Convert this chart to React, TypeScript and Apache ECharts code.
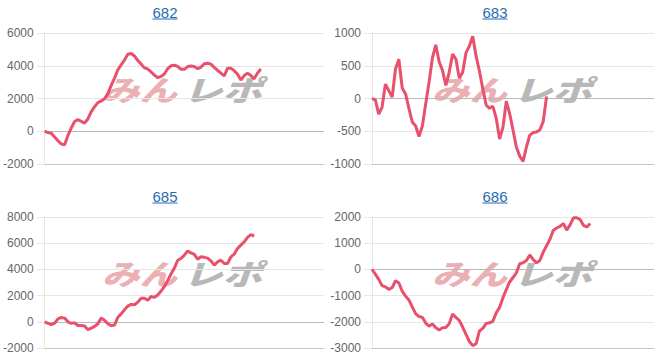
import React, { useEffect, useRef } from 'react';
import * as echarts from 'echarts';

const titles = ['682', '683', '685', '686'];
const categories = Array.from({ length: 85 }, (_, i) => String(i + 1));

const s682 = [0, -80, -130, -350, -580, -780, -830, -250, 200, 600, 720, 600, 500, 750, 1200, 1500, 1750, 1850, 1980, 2300,
  2800, 3250, 3750, 4050, 4350, 4700, 4750, 4600, 4320, 4100, 3870, 3800, 3620, 3430, 3270, 3350, 3500, 3830, 4000, 4030,
  3960, 3780, 3780, 3950, 3980, 3960, 3820, 3920, 4120, 4150, 4100, 3900, 3720, 3550, 3380, 3850, 3850, 3700, 3480, 3130,
  3400, 3550, 3400, 3200, 3550, 3800];
const s683 = [0, -20, -240, -130, 220, 120, 20, 450, 600, 160, 70, -150, -360, -420, -580, -420, -80, 250, 620, 820,
  560, 430, 200, 400, 680, 600, 310, 400, 700, 800, 950, 650, 420, 150, -100, -150, -120, -300, -620, -440,
  -40, -230, -480, -740, -880, -960, -740, -560, -520, -510, -480, -350, 30];
const s685 = [0, -120, -220, -100, 220, 330, 280, 0, -120, -80, -280, -280, -320, -600, -480, -350, -150, 280, 120, -150,
  -300, -250, 350, 600, 920, 1200, 1330, 1300, 1500, 1800, 1800, 1650, 1930, 1870, 2050, 2350, 2700, 3150, 3650, 4100,
  4700, 4830, 5090, 5400, 5260, 5150, 4780, 4960, 4920, 4860, 4650, 4320, 4580, 4700, 4450, 4450, 4960, 5170, 5600, 5850,
  6100, 6450, 6650, 6550];
const s686 = [0, -180, -380, -620, -670, -760, -700, -430, -520, -830, -1020, -1170, -1430, -1690, -1800, -1830, -2050, -2170, -2080, -2230,
  -2310, -2230, -2220, -2070, -1700, -1830, -1950, -2200, -2480, -2750, -2910, -2840, -2350, -2250, -2060, -2040, -1980, -1660, -1450, -1080,
  -770, -480, -310, -130, 215, 250, 340, 550, 380, 250, 340, 660, 900, 1150, 1490, 1580, 1640, 1750, 1500, 1700,
  1970, 1970, 1900, 1680, 1620, 1750];

const seriesData = [s682, s683, s685, s686];
const yMin = [-2000, -1000, -2000, -3000];
const yMax = [6000, 1000, 8000, 2000];
const yStep = [2000, 500, 2000, 1000];

const gridPos = [
  { left: 42, top: 33 },
  { left: 372, top: 33 },
  { left: 42, top: 217 },
  { left: 372, top: 217 },
];
const GW = 282;
const GH = 131;
const FONT = '"Liberation Sans", Arial, sans-serif';
const LINK = '#1f6db0';

export default function App() {
  const ref = useRef<HTMLDivElement>(null);
  useEffect(() => {
    if (!ref.current) return;
    const chart = echarts.init(ref.current, undefined, { renderer: 'svg' });
    const graphics: any[] = [];
    gridPos.forEach((g, i) => {
      const cx = g.left + 123;
      graphics.push({
        type: 'text', x: cx, y: g.top - 20.5, z: 10,
        style: { text: titles[i], fill: LINK, font: `15px ${FONT}`, textAlign: 'center', textVerticalAlign: 'middle' },
      });
      graphics.push({
        type: 'line', z: 10,
        shape: { x1: cx - 12.5, y1: g.top - 14, x2: cx + 12.5, y2: g.top - 14 },
        style: { stroke: LINK, lineWidth: 1 },
      });
      graphics.push({
        type: 'text', x: g.left + 60, y: g.top + 56, z: 0, scaleX: 1.25, scaleY: 0.95,
        style: { text: 'みん', fill: '#eab0b3', font: `italic 900 30px "Noto Sans CJK JP"`, textAlign: 'left', textVerticalAlign: 'middle' },
      });
      graphics.push({
        type: 'text', x: g.left + 141, y: g.top + 56, z: 0, scaleX: 1.32, scaleY: 0.95,
        style: { text: 'レポ', fill: '#b8b8b8', font: `italic 900 30px "Noto Sans CJK JP"`, textAlign: 'left', textVerticalAlign: 'middle' },
      });
    });

    const option: any = {
      animation: false,
      backgroundColor: '#ffffff',
      textStyle: { fontFamily: FONT },
      grid: gridPos.map((g) => ({ left: g.left, top: g.top, width: GW, height: GH, containLabel: false })),
      xAxis: gridPos.map((_, i) => ({
        type: 'category', gridIndex: i, data: categories, boundaryGap: false,
        axisLabel: { show: false }, axisTick: { show: false }, splitLine: { show: false },
        axisLine: { show: true, onZero: false, lineStyle: { color: '#c6c6c6', width: 1 } },
      })),
      yAxis: gridPos.map((_, i) => ({
        type: 'value', gridIndex: i, min: yMin[i], max: yMax[i], interval: yStep[i],
        axisLine: { show: true, lineStyle: { color: '#e6e6e6' } },
        axisTick: { show: true, length: 8, lineStyle: { color: '#e6e6e6' } },
        axisLabel: { margin: 11, color: '#666666', fontSize: 12, fontFamily: FONT, formatter: (v: number) => String(v) },
        splitLine: { show: true, lineStyle: { color: '#e6e6e6', width: 1 } },
      })),
      series: [
        ...seriesData.map((d, i) => ({
          type: 'line', xAxisIndex: i, yAxisIndex: i, data: [], z: 1, silent: true,
          markLine: {
            silent: true, symbol: ['none', 'none'], label: { show: false },
            lineStyle: { color: '#b8b8b8', type: 'solid', width: 1 },
            data: [{ yAxis: 0 }],
          },
        })),
        ...seriesData.map((d, i) => ({
          type: 'line', xAxisIndex: i, yAxisIndex: i, data: d, z: 5,
          showSymbol: false, symbol: 'none',
          lineStyle: { color: '#e8506c', width: 3 },
        })),
      ],
      graphic: graphics,
    };
    chart.setOption(option);
    return () => chart.dispose();
  }, []);
  return <div ref={ref} style={{ position: 'absolute', left: 0, top: 0, width: 661, height: 363 }} />;
}
